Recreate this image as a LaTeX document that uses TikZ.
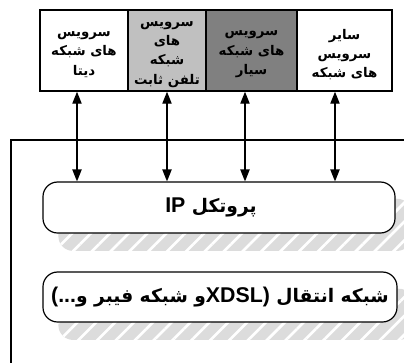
\documentclass[tikz,border=0pt]{standalone}
\usepackage{fontspec}
\setmainfont{Liberation Sans}
\newfontfamily\fa[Script=Arabic]{DejaVu Sans}
\newfontfamily\lat{Liberation Sans}
\TeXXeTstate=1
\usetikzlibrary{arrows.meta,patterns.meta,backgrounds}
\definecolor{lgray}{RGB}{192,192,192}
\definecolor{dgray}{RGB}{128,128,128}
\definecolor{shgray}{RGB}{220,220,220}
\newcommand\rl[1]{\beginR #1\endR}
\newcommand\wrd[1]{\mbox{#1}}
\newcommand\latbig{\lat\fontsize{16}{18}\selectfont}
\tikzset{
  svc/.style={draw=black,line width=1.1pt,minimum height=60.75pt,inner sep=0pt},
  svctext/.style={inner sep=0pt,align=center,font=\fa\bfseries\fontsize{10}{14.5}\selectfont},
  layer/.style={draw=black,line width=0.9pt,rounded corners=11pt,fill=white,inner sep=2pt,
    font=\fa\bfseries\fontsize{14}{16}\selectfont},
  arr/.style={line width=0.9pt,{Triangle[length=9pt,width=7pt]}-{Triangle[length=9pt,width=7pt]}},
  shadowfill/.style={fill=shgray,rounded corners=11pt},
  shadowlines/.style={pattern={Lines[angle=45,distance=10pt,line width=2pt]},pattern color=white,rounded corners=11pt}
}
\begin{document}
\begin{tikzpicture}[x=0.75pt,y=-0.75pt]
\useasboundingbox (0,0) rectangle (404,362);
\clip (0,0) rectangle (404,362);
% frame
\draw[line width=1.5pt] (450,140) -- (11,140) -- (11,420);
% service boxes
\node[svc,fill=white,minimum width=66pt] (b1) at (84,50.5) {};
\node[svc,fill=lgray,minimum width=58.5pt] (b2) at (167,50.5) {};
\node[svc,fill=dgray,minimum width=68.25pt] (b3) at (251.5,50.5) {};
\node[svc,fill=white,minimum width=71.25pt] (b4) at (344.5,50.5) {};
\node[svctext] (t1) at ([yshift=-3pt]b1.center) {\rl{سرویس}\\\rl{های شبکه}\\\rl{دیتا}};
\node[svctext] (t2) at ([yshift=-3pt]b2.center) {\rl{سرویس}\\\rl{های}\\\rl{شبکه}\\\rl{تلفن ثابت}};
\node[svctext] (t3) at ([yshift=-3pt]b3.center) {\rl{سرویس}\\\rl{های شبکه}\\\rl{سیار}};
\node[svctext] (t4) at ([yshift=-3pt]b4.center) {\rl{سایر}\\\rl{سرویس}\\\rl{های شبکه}};
% layers
\node[layer,minimum width=264pt,minimum height=38.25pt] (ip) at (219,207.5)
  {\rl{پروتکل {\latbig IP}}\hspace*{12pt}};
\node[layer,minimum width=265.5pt,minimum height=37.5pt] (tr) at (220,297)
  {\rl{\wrd{شبکه} \wrd{انتقال} \wrd{\latbig XDSL)}\wrd{و} \wrd{شبکه} \wrd{فیبر} \wrd{و}\wrd{\latbig (...}}};
\begin{scope}[on background layer]
  \foreach \n in {ip,tr}{
    \path[shadowfill] ([shift={(12pt,-13pt)}]\n.south west) rectangle ([shift={(12pt,-13pt)}]\n.north east);
    \path[shadowlines] ([shift={(12pt,-13pt)}]\n.south west) rectangle ([shift={(12pt,-13pt)}]\n.north east);
  }
\end{scope}
% arrows
\coordinate (x1) at (77,0);
\coordinate (x2) at (167,0);
\coordinate (x3) at (245,0);
\coordinate (x4) at (335,0);
\draw[arr] (b1.south -| x1) -- (ip.north -| x1);
\draw[arr] (b2.south -| x2) -- (ip.north -| x2);
\draw[arr] (b3.south -| x3) -- (ip.north -| x3);
\draw[arr] (b4.south -| x4) -- (ip.north -| x4);
\end{tikzpicture}
\end{document}
